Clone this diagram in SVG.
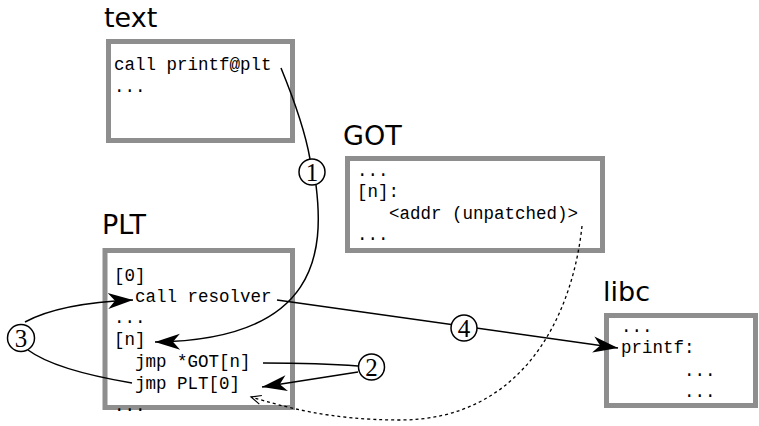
<svg xmlns="http://www.w3.org/2000/svg" width="759" height="426" viewBox="0 0 759 426">
<style>
.box{fill:#fff;stroke:#8e8e8e;stroke-width:5}
.title{font-family:"DejaVu Sans",sans-serif;font-size:27px;fill:#000}
.code{font-family:"Liberation Mono","Courier New",monospace;font-size:17.5px;fill:#000}
.con{fill:none;stroke:#000;stroke-width:1.5}
.dot{fill:none;stroke:#000;stroke-width:1.3;stroke-dasharray:3 3}
.num circle{fill:#fff;stroke:#000;stroke-width:1.5}
.num text{font-family:"Liberation Serif","Times New Roman",serif;font-size:25px;text-anchor:middle;fill:#000}
</style>
<defs>
<marker id="ah" markerUnits="userSpaceOnUse" orient="auto" markerWidth="30" markerHeight="20" viewBox="-28 -10 30 20" refX="0" refY="0" overflow="visible">
<path d="M0,0 L-25,-8 L-18,0 L-25,8 Z" fill="#000"/>
</marker>
<marker id="oh" markerUnits="userSpaceOnUse" orient="auto" markerWidth="14" markerHeight="12" viewBox="-12 -6 14 12" refX="0" refY="0" overflow="visible">
<path d="M-10,-4.5 L0,0 L-10,4.5" fill="none" stroke="#000" stroke-width="1.2"/>
</marker>
</defs>
<rect width="759" height="426" fill="#fff"/>
<g id="text">
<text class="title" x="104" y="27">text</text>
<rect class="box" x="108.5" y="41.5" width="184" height="99"/>
<text class="code" x="114" y="70">call printf@plt</text>
<text class="code" x="114" y="92">...</text>
</g>
<g id="GOT">
<text class="title" x="343" y="145">GOT</text>
<rect class="box" x="347.5" y="158.5" width="255" height="92"/>
<text class="code" x="357" y="176">...</text>
<text class="code" x="357" y="197">[n]:</text>
<text class="code" x="389" y="219">&lt;addr (unpatched)&gt;</text>
<text class="code" x="357" y="240">...</text>
</g>
<g id="PLT">
<text class="title" x="102" y="234">PLT</text>
<rect class="box" x="105" y="250.5" width="187.5" height="157"/>
<text class="code" x="114" y="281">[0]</text>
<text class="code" x="135" y="302">call resolver</text>
<text class="code" x="114" y="323">...</text>
<text class="code" x="114" y="345">[n]</text>
<text class="code" x="135" y="367">jmp *GOT[n]</text>
<text class="code" x="135" y="389">jmp PLT[0]</text>
<text class="code" x="114" y="411">...</text>
</g>
<g id="libc">
<text class="title" x="603" y="301">libc</text>
<rect class="box" x="606.5" y="315.5" width="149" height="90"/>
<text class="code" x="621" y="332">...</text>
<text class="code" x="621" y="353">printf:</text>
<text class="code" x="684" y="376">...</text>
<text class="code" x="684" y="397">...</text>
</g>
<g id="connectors">
<path class="con" d="M281,68 C290,90 305,130 310,159"/>
<path class="con" d="M316,185 C324,250 320,340 155,342" marker-end="url(#ah)"/>
<path class="con" d="M263,363 Q320,363 358,366"/>
<path class="con" d="M358,372 L262,387" marker-end="url(#ah)"/>
<path class="con" d="M25,322 Q60,303 133,300" marker-end="url(#ah)"/>
<path class="con" d="M28,350 Q55,370 132,383"/>
<path class="con" d="M277,300 L618,348" marker-end="url(#ah)"/>
<path class="dot" d="M582,226 C572,320 520,420 400,420 C330,420 285,407 251,397" marker-end="url(#oh)"/>
<g class="num"><circle cx="312" cy="172" r="13"/><text x="312" y="180.5">1</text></g>
<g class="num"><circle cx="371.5" cy="367" r="13"/><text x="371.5" y="375.5">2</text></g>
<g class="num"><circle cx="21" cy="338" r="13.5"/><text x="21" y="346.5">3</text></g>
<g class="num"><circle cx="464" cy="328" r="13"/><text x="464" y="336.5">4</text></g>
</g>
</svg>
